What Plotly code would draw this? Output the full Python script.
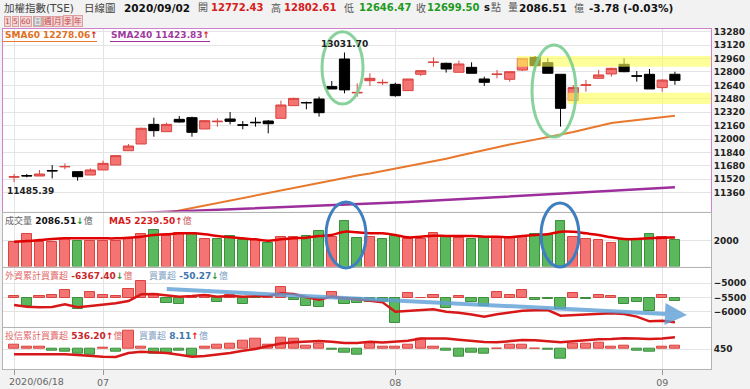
import plotly.graph_objects as go

# ---------------- data ----------------
dates = (["2020/06/%02d" % d for d in [18, 19, 22, 23, 24, 29, 30]] +
         ["2020/07/%02d" % d for d in [1, 2, 3, 6, 7, 8, 9, 10, 13, 14, 15, 16, 17, 20, 21, 22, 23, 24, 27, 28, 29, 30, 31]] +
         ["2020/08/%02d" % d for d in [3, 4, 5, 6, 7, 10, 11, 12, 13, 14, 17, 18, 19, 20, 21, 24, 25, 26, 27, 28, 31]] +
         ["2020/09/01", "2020/09/02"])

open_p = [11545, 11565, 11559, 11625, 11668, 11611, 11571, 11631, 11690, 11861,
          11941, 12175, 12088, 12235, 12255, 12120, 12206, 12239, 12170, 12200,
          12215, 12247, 12398, 12436, 12477, 12625, 12954, 12550, 12696, 12670,
          12652, 12577, 12772, 12913, 12903, 12796, 12855, 12716, 12770, 12712,
          12823, 12974, 12911, 12772, 12458, 12640, 12724, 12776, 12891, 12754,
          12772, 12613, 12772.43]
high_p = [11583, 11583, 11631, 11690, 11710, 11611, 11651, 11742, 11802, 11941,
          12136, 12255, 12195, 12275, 12267, 12227, 12247, 12322, 12215, 12259,
          12227, 12458, 12493, 12446, 12505, 12692, 13031.70, 12664, 12784, 12712,
          12672, 12716, 12823, 12974, 12911, 12935, 12915, 12744, 12823, 12803,
          12962, 12990, 12962, 12772, 12644, 12704, 12823, 12851, 12962, 12811,
          12835, 12712, 12802.61]
low_p = [11485.39, 11543, 11559, 11531, 11639, 11504, 11571, 11631, 11690, 11861,
         11941, 12028, 12088, 12195, 12028, 12120, 12148, 12175, 12116, 12148,
         12068, 12247, 12398, 12354, 12267, 12597, 12545, 12505, 12633, 12644,
         12505, 12577, 12752, 12863, 12792, 12796, 12784, 12633, 12724, 12684,
         12811, 12843, 12784, 12148, 12458, 12565, 12724, 12744, 12796, 12684,
         12597, 12565, 12646.47]
close_p = [11551, 11560, 11583, 11620, 11673, 11551, 11631, 11710, 11802, 11917,
           12128, 12100, 12175, 12203, 12080, 12219, 12212, 12211, 12165, 12195,
           12183, 12406, 12485, 12432, 12314, 12597, 12586, 12556, 12724, 12675,
           12517, 12716, 12815, 12917, 12835, 12895, 12784, 12676, 12774, 12803,
           12962, 12875, 12784, 12366, 12613, 12646, 12764, 12843, 12803, 12750,
           12597, 12703.28, 12699.50]

sma60 = [10760, 10790, 10820, 10850, 10880, 10910, 10940, 10970, 11000, 11030,
         11060, 11090, 11120, 11150, 11180, 11210, 11240, 11270, 11300, 11330,
         11360, 11390, 11420, 11450, 11480, 11510, 11540, 11565, 11590, 11618,
         11646, 11674, 11702, 11730, 11765, 11800, 11835, 11870, 11905, 11934,
         11963, 11992, 12021, 12050, 12085, 12120, 12155, 12190, 12208, 12226,
         12244, 12262, 12278.06]
sma240 = [11058, 11064, 11070, 11076, 11082, 11088, 11094, 11100, 11106, 11112,
          11118, 11124, 11130, 11136, 11142, 11148, 11154, 11160, 11166, 11172,
          11178, 11184, 11190, 11196, 11202, 11208, 11214, 11220, 11226, 11234,
          11242, 11250, 11258, 11266, 11274, 11282, 11291, 11300, 11309, 11318,
          11327, 11336, 11345, 11354, 11362, 11370, 11378, 11386, 11394, 11402,
          11409, 11416, 11423.83]

volume = [1925, 2519, 1925, 1925, 2131, 1976, 1976, 1976, 1976, 2235,
          2519, 2829, 2390, 2570, 2570, 2131, 2105, 2364, 2080, 2054,
          1795, 2260, 2260, 2364, 2751, 2280, 3526, 2235, 2300, 2131,
          2364, 2131, 2131, 2622, 2312, 2235, 2105, 2312, 2260, 2235,
          2260, 2519, 2420, 3526, 2260, 2105, 2054, 1847, 2105, 2105,
          2519, 2260, 2086.51]
vol_ma5 = [1925, 1976, 2054, 2131, 2183, 2183, 2183, 2183, 2183, 2235,
           2312, 2441, 2493, 2570, 2570, 2493, 2364, 2260, 2183, 2105,
           2002, 2105, 2183, 2235, 2364, 2441, 2699, 2647, 2570, 2570,
           2441, 2260, 2312, 2390, 2364, 2364, 2364, 2312, 2312, 2260,
           2364, 2441, 2493, 2699, 2699, 2570, 2441, 2260, 2131, 2131,
           2183, 2235, 2239.50]

foreign_net = [25, -127, 25, 46, 127, -162, 86, 46, 35, 137,
               264, 61, -71, -86, 10, 46, -56, 46, -86, -5,
               10, 162, -30, -127, -142, 96, -91, -76, -60, -61,
               -380, 71, 5, 46, -152, 35, -61, -127, 96, 46,
               127, -25, -10, -167, 76, -10, 46, 35, -86, -61,
               -203, 46, -50.27]
foreign_cum = [-5764, -5822, -5846, -5830, -5740, -5846, -5799, -5764, -5705, -5623,
               -5388, -5377, -5435, -5470, -5447, -5412, -5470, -5435, -5470, -5470,
               -5447, -5353, -5375, -5490, -5580, -5470, -5530, -5560, -5623, -5670,
               -5998, -5963, -5940, -5916, -5998, -6033, -6100, -6174, -6092, -6033,
               -5963, -5950, -5940, -6139, -6116, -6100, -6070, -6057, -6080, -6174,
               -6340, -6317, -6367.40]

trust_net = [8.4, 5.6, 4, -3.5, -5.6, -9, -11, 2, -5.6, 38,
             4, -9, -9, -4, -14, 5.6, 8.4, 10.5, 17.5, 22,
             8.4, 24.5, 21, 7, 10.5, -1.4, -7, -12.6, 14, 4,
             4, 10, 21, 5.6, -4, -16, -7, -9, 0.5, 8.4,
             8.4, 0.5, -1.4, -19.6, 10.5, 10.5, 14, 4, 6.3, -2.8,
             -5.6, 5.6, 8.11]
trust_cum = [414, 414, 414, 416, 414, 409, 402, 397, 395, 423,
             433, 428, 423, 411, 397, 402, 411, 423, 440, 452,
             474, 491, 500, 505, 510, 505, 495, 495, 505, 498,
             505, 512, 527, 529, 527, 519, 510, 503, 500, 510,
             517, 515, 505, 500, 507, 515, 522, 524, 529, 527,
             524, 527, 536.20]

price_ticks = [11360, 11520, 11680, 11840, 12000, 12160, 12320, 12480,
               12640, 12800, 12960, 13120, 13280]
tick_dates = ["2020/06/18", "2020/07/01", "2020/08/03", "2020/09/01"]
tick_text = ["", "07", "08", "09"]

# ---------------- styling helpers ----------------
FONT = "DejaVu Sans, Noto Sans CJK TC, sans-serif"
W, H = 750, 389
PL, PR, PT, PB = 3, 711, 29, 369
def fx(x):
    return (x - PL) / (PR - PL)
def fy(y):
    return (PB - y) / (PB - PT)

RED_F, RED_L = "#F47474", "#D9443F"
GRN_F, GRN_L = "#5CB85C", "#3E8E3E"
PANEL_LINE = "#B4B4B4"
MAIN_LINE = "#CF80CF"
GRID = "#E4E4E4"

n = len(dates)
vol_up = [True] + [close_p[i] >= close_p[i - 1] for i in range(1, n)]

fig = go.Figure()

fig.add_trace(go.Scatter(x=dates, y=sma60, mode="lines", line=dict(color="#E8782C", width=2),
                         xaxis="x", yaxis="y", hoverinfo="skip", showlegend=False))
fig.add_trace(go.Scatter(x=dates, y=sma240, mode="lines", line=dict(color="#9C2F9C", width=2.5),
                         xaxis="x", yaxis="y", hoverinfo="skip", showlegend=False))
fig.add_trace(go.Candlestick(x=dates, open=open_p, high=high_p, low=low_p, close=close_p,
                             xaxis="x", yaxis="y", whiskerwidth=0,
                             increasing=dict(line=dict(color=RED_L, width=1), fillcolor=RED_F),
                             decreasing=dict(line=dict(color="#000000", width=1), fillcolor="#000000"),
                             hoverinfo="skip", showlegend=False))

fig.add_trace(go.Bar(x=dates, y=volume, xaxis="x2", yaxis="y2", width=0.76,
                     marker=dict(color=[RED_F if u else GRN_F for u in vol_up],
                                 line=dict(color=[RED_L if u else GRN_L for u in vol_up], width=1)),
                     hoverinfo="skip", showlegend=False))
fig.add_trace(go.Scatter(x=dates, y=vol_ma5, mode="lines", line=dict(color="#E00000", width=2.5, shape="spline"),
                         xaxis="x2", yaxis="y2", hoverinfo="skip", showlegend=False))

fig.add_trace(go.Bar(x=dates, y=foreign_net, xaxis="x3", yaxis="y3", width=0.8,
                     marker=dict(color=[RED_F if v >= 0 else GRN_F for v in foreign_net],
                                 line=dict(color=[RED_L if v >= 0 else GRN_L for v in foreign_net], width=1)),
                     hoverinfo="skip", showlegend=False))
fig.add_trace(go.Scatter(x=dates, y=foreign_cum, mode="lines", line=dict(color="#D81818", width=2.5),
                         xaxis="x3", yaxis="y5", hoverinfo="skip", showlegend=False))

fig.add_trace(go.Bar(x=dates, y=trust_net, xaxis="x4", yaxis="y4", width=0.8,
                     marker=dict(color=[RED_F if v >= 0 else GRN_F for v in trust_net],
                                 line=dict(color=[RED_L if v >= 0 else GRN_L for v in trust_net], width=1)),
                     hoverinfo="skip", showlegend=False))
fig.add_trace(go.Scatter(x=dates, y=trust_cum, mode="lines", line=dict(color="#D81818", width=2.5),
                         xaxis="x4", yaxis="y6", hoverinfo="skip", showlegend=False))

xr = [-0.87, 54.84]
def xax(anchor, line, labels=False):
    d = dict(type="category", range=xr, anchor=anchor, domain=[0, 1],
             tickvals=tick_dates, ticktext=tick_text, showgrid=True, gridcolor=GRID, gridwidth=1,
             showline=True, mirror=True, linecolor=line, linewidth=1, zeroline=False,
             showticklabels=labels, ticks="outside" if labels else "", automargin=False,
             fixedrange=True)
    if labels:
        d.update(ticklen=5, tickcolor="#999999", tickfont=dict(family=FONT, size=9.5, color="#666666"))
    return d

def yax(domain, rng, ticks, line, anchor, grid=True):
    return dict(domain=domain, range=rng, anchor=anchor, side="right", tickvals=ticks,
                tickformat="d", showgrid=grid, gridcolor=GRID, showline=True, mirror=True, linecolor=line,
                linewidth=1, zeroline=False, ticks="", automargin=False, fixedrange=True,
                tickfont=dict(family=FONT, size=9, color="#222222", weight="bold"))

lay = dict(
    width=W, height=H, template="none", autosize=False,
    margin=dict(l=PL, r=W - PR, t=PT, b=H - PB, pad=0),
    paper_bgcolor="#F2F2F2", plot_bgcolor="#FFFFFF",
    showlegend=False, hovermode=False, bargap=0, boxgap=0.2, boxgroupgap=0,
    xaxis=xax("y", MAIN_LINE), xaxis2=xax("y2", PANEL_LINE),
    xaxis3=xax("y3", PANEL_LINE), xaxis4=xax("y4", PANEL_LINE, labels=True),
    yaxis=yax([fy(211.5), 1], [11136, 13312], price_ticks, MAIN_LINE, "x"),
    yaxis2=yax([fy(266.5), fy(213)], [0, 4147], [2000], PANEL_LINE, "x2"),
    yaxis3=yax([fy(326.7), fy(268)], [-436, 456], [], PANEL_LINE, "x3", grid=False),
    yaxis4=yax([0, fy(327.7)], [-42, 45], [], PANEL_LINE, "x4", grid=False),
)
lay["xaxis"]["rangeslider"] = dict(visible=False)
y5 = yax(None, [-6528, -4461], [-5000, -5500, -6000], PANEL_LINE, "x3")
y5.pop("domain"); y5["overlaying"] = "y3"
y6 = yax(None, [308, 605.5], [450], PANEL_LINE, "x4")
y6.pop("domain"); y6["overlaying"] = "y4"
lay["yaxis5"] = y5
lay["yaxis6"] = y6
fig.update_layout(**lay)

# ---------------- shapes ----------------
shapes = []
# yellow bands
shapes.append(dict(type="rect", xref="x", yref="y", x0=39.6, x1=54.84, y0=12863, y1=12990,
                   fillcolor="#FFFF55", opacity=0.6, line=dict(width=0), layer="above"))
shapes.append(dict(type="rect", xref="x", yref="y", x0=43.56, x1=54.84, y0=12418, y1=12553,
                   fillcolor="#FFFF55", opacity=0.6, line=dict(width=0), layer="above"))
# green ellipses
for (a, b, c, d) in [(322, 363, 31.7, 104), (532, 576, 45, 137)]:
    shapes.append(dict(type="circle", xref="paper", yref="paper", x0=fx(a), x1=fx(b), y0=fy(d), y1=fy(c),
                       line=dict(color="rgba(125,205,145,0.9)", width=3)))
# blue ellipses
for (a, b, c, d) in [(326, 366, 202, 268), (541, 579, 203, 267)]:
    shapes.append(dict(type="circle", xref="paper", yref="paper", x0=fx(a), x1=fx(b), y0=fy(d), y1=fy(c),
                       line=dict(color="#3F7FC0", width=3)))
# underlines of the legend labels
shapes.append(dict(type="line", xref="paper", yref="paper", x0=fx(3), x1=fx(97), y0=fy(41.5), y1=fy(41.5),
                   line=dict(color="#E8782C", width=1)))
shapes.append(dict(type="line", xref="paper", yref="paper", x0=fx(110), x1=fx(210), y0=fy(41.5), y1=fy(41.5),
                   line=dict(color="#9C2F9C", width=1)))
fig.update_layout(shapes=shapes)

# ---------------- annotations ----------------
ann = []
def txt(x, y, s, color="#333333", size=9, bold=False, **kw):
    a = dict(xref="paper", yref="paper", x=fx(x), y=fy(y), xanchor="left", yanchor="middle",
             text=s, showarrow=False, font=dict(family=FONT, size=size, color=color,
                                                weight="bold" if bold else "normal"))
    a.update(kw)
    ann.append(a)

# header
HY = 7.5
txt(2, HY, "加權指數(TSE)", "#444444", 10.5)
txt(82, HY, "日線圖", "#444444", 10.5)
txt(122, HY, "2020/09/02", "#111111", 10.5, True)
txt(196, HY, "開", "#555555", 10)
txt(209, HY, "12772.43", "#D42020", 10, True)
txt(269, HY, "高", "#555555", 10)
txt(282, HY, "12802.61", "#D42020", 10, True)
txt(342, HY, "低", "#555555", 10)
txt(357, HY, "12646.47", "#1F9A1F", 10, True)
txt(414, HY, "收", "#555555", 10)
txt(425, HY, "12699.50", "#1F9A1F", 10, True)
txt(482, HY, "s", "#111111", 10, True)
txt(489, HY, "點", "#555555", 10)
txt(506, HY, "量", "#555555", 10)
txt(517, HY, "2086.51", "#111111", 10.5, True)
txt(572, HY, "億", "#555555", 10)
txt(587, HY, "-3.78 (-0.03%)", "#111111", 10.5, True)

# period buttons
for (x, s, sel) in [(4, "1", False), (12, "5", False), (20, "60", False), (33, "日", True),
                    (43, "週", False), (53, "月", False), (63, "季", False), (73, "年", False)]:
    txt(x, 21, s, "#FFFFFF" if sel else "#C04848", 7.5, bgcolor="#B8B8B8" if sel else "#F4D4D4",
        bordercolor="#DDA0A0", borderwidth=1, borderpad=0)

# main panel legend
txt(3, 35, "SMA60 12278.06<span style='color:#E02020'>↑</span>", "#E0701E", 9, True)
txt(109, 35, "SMA240 11423.83<span style='color:#E02020'>↑</span>", "#A03AA0", 9, True)
# high / low labels
ann.append(dict(xref="x", yref="y", x=dates[26], y=13031.70, yshift=9, text="13031.70", showarrow=False,
                font=dict(family=FONT, size=9, color="#222222", weight="bold")))
ann.append(dict(xref="x", yref="y", x=dates[0], y=11485.39, yshift=-9, xshift=16, text="11485.39", showarrow=False,
                font=dict(family=FONT, size=9, color="#222222", weight="bold")))

# volume label
txt(3, 220.5, "<span style='color:#666666;font-weight:normal'>成交量</span> 2086.51"
    "<span style='color:#2A9A2A'>↓</span><span style='color:#666666;font-weight:normal'>億</span>",
    "#111111", 9, True)
txt(107, 220.5, "MA5 2239.50<span style='color:#E02020'>↑</span>"
    "<span style='color:#D06060;font-weight:normal'>億</span>", "#D41C1C", 9, True)

# foreign label
txt(3, 275, "<span style='color:#E06868;font-weight:normal'>外資累計買賣超</span> -6367.40"
    "<span style='color:#2A9A2A'>↓</span><span style='color:#E06868;font-weight:normal'>億</span>",
    "#C82828", 9, True)
txt(147, 275, "<span style='color:#7FA2C4;font-weight:normal'>買賣超</span> -50.27"
    "<span style='color:#2A9A2A'>↓</span><span style='color:#7FA2C4;font-weight:normal'>億</span>",
    "#3F76AA", 9, True)

# trust label
txt(3, 335, "<span style='color:#E06868;font-weight:normal'>投信累計買賣超</span> 536.20"
    "<span style='color:#E02020'>↑</span><span style='color:#E06868;font-weight:normal'>億</span>",
    "#C82828", 9, True)
txt(137, 335, "<span style='color:#7FA2C4;font-weight:normal'>買賣超</span> 8.11"
    "<span style='color:#E02020'>↑</span><span style='color:#7FA2C4;font-weight:normal'>億</span>",
    "#3F76AA", 9, True)

# first date label (left aligned)
txt(7, 381.5, "2020/06/18", "#666666", 9.5)

# blue trend arrow in foreign panel
ann.append(dict(xref="x3", yref="y5", axref="x3", ayref="y5", x=52.95, y=-6116, ax=11.9, ay=-5201,
                text="", showarrow=True, arrowhead=2, arrowsize=1.1, arrowwidth=4,
                arrowcolor="rgba(95,160,215,0.8)", standoff=0, startstandoff=0))

fig.update_layout(annotations=ann)
fig.write_html("out.html", config={"displayModeBar": False},
               post_script="document.body.style.margin='0';document.body.style.padding='0';"
                           "document.body.style.background='#F2F2F2';")
